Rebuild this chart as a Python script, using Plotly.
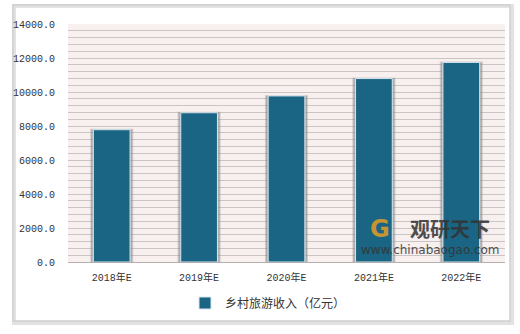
import plotly.graph_objects as go

categories = ["2018年E", "2019年E", "2020年E", "2021年E", "2022年E"]
values = [7780, 8780, 9770, 10790, 11740]
series_name = "乡村旅游收入（亿元）"
y_tickvals = [0, 2000, 4000, 6000, 8000, 10000, 12000, 14000]
y_ticktext = ["0.0", "2000.0", "4000.0", "6000.0", "8000.0", "10000.0", "12000.0", "14000.0"]

BAR = "#1b6584"
tick_font = dict(family="Liberation Mono, Noto Sans CJK SC", size=10, color="#333333")

fig = go.Figure()
# soft shadow behind bars
fig.add_trace(go.Bar(
    x=categories, y=values, width=0.47, showlegend=False, hoverinfo="skip",
    marker=dict(color="rgba(110,110,110,0.45)", line=dict(color="rgba(150,150,150,0.35)", width=2)),
))
fig.add_trace(go.Bar(
    x=categories, y=values, width=0.42, name=series_name,
    marker=dict(color=BAR, line=dict(color="#d6e6ee", width=1)),
))

# frame around the chart
px = lambda p: (p - 68) / 437
py = lambda p: (262 - p) / 238
fig.add_shape(type="rect", xref="paper", yref="paper", layer="below",
              x0=px(14), x1=px(512), y0=py(6), y1=py(323),
              line=dict(color="#e2e2e2", width=4), fillcolor="rgba(0,0,0,0)")
fig.add_shape(type="rect", xref="paper", yref="paper", layer="below",
              x0=px(13), x1=px(510), y0=py(5), y1=py(321),
              line=dict(color="#cfcfcf", width=1.5), fillcolor="rgba(0,0,0,0)")

# watermark
fig.add_annotation(xref="paper", yref="paper", x=px(450), y=py(228), xanchor="center", yanchor="middle",
                   text="<b>观研天下</b>", showarrow=False,
                   font=dict(family="Noto Sans CJK SC", size=20, color="#333333"), opacity=0.85)
fig.add_annotation(xref="paper", yref="paper", x=px(430), y=py(250), xanchor="center", yanchor="middle",
                   text="www.chinabaogao.com", showarrow=False,
                   font=dict(family="DejaVu Sans", size=12, color="#333333"), opacity=0.85)
fig.add_annotation(xref="paper", yref="paper", x=px(380), y=py(229), xanchor="center", yanchor="middle",
                   text="<b>G</b>", showarrow=False,
                   font=dict(family="DejaVu Sans", size=24, color="#f0a020"), opacity=0.8)

fig.update_layout(
    width=520, height=334,
    margin=dict(l=68, r=15, t=24, b=72, autoexpand=False),
    paper_bgcolor="white",
    plot_bgcolor="#f8efef",
    barmode="overlay",
    showlegend=True,
    legend=dict(orientation="h", x=px(185), xanchor="left", y=py(303), yanchor="middle",
                font=dict(family="Noto Sans CJK SC", size=12, color="#333333"),
                bgcolor="rgba(0,0,0,0)", itemwidth=30),
    xaxis=dict(showgrid=False, showline=True, linecolor="#b8b0b0", linewidth=1,
               tickfont=tick_font, ticks="", ticklabelstandoff=6),
    yaxis=dict(range=[0, 14000], tickvals=y_tickvals, ticktext=y_ticktext,
               tickfont=tick_font, showgrid=True, gridcolor="#cbc4c4", gridwidth=1,
               zeroline=False, showline=False, ticks="", ticklabelstandoff=12,
               minor=dict(dtick=400, tick0=0, showgrid=True, gridcolor="#cbc4c4", gridwidth=1)),
)

fig.write_html("out.html")
